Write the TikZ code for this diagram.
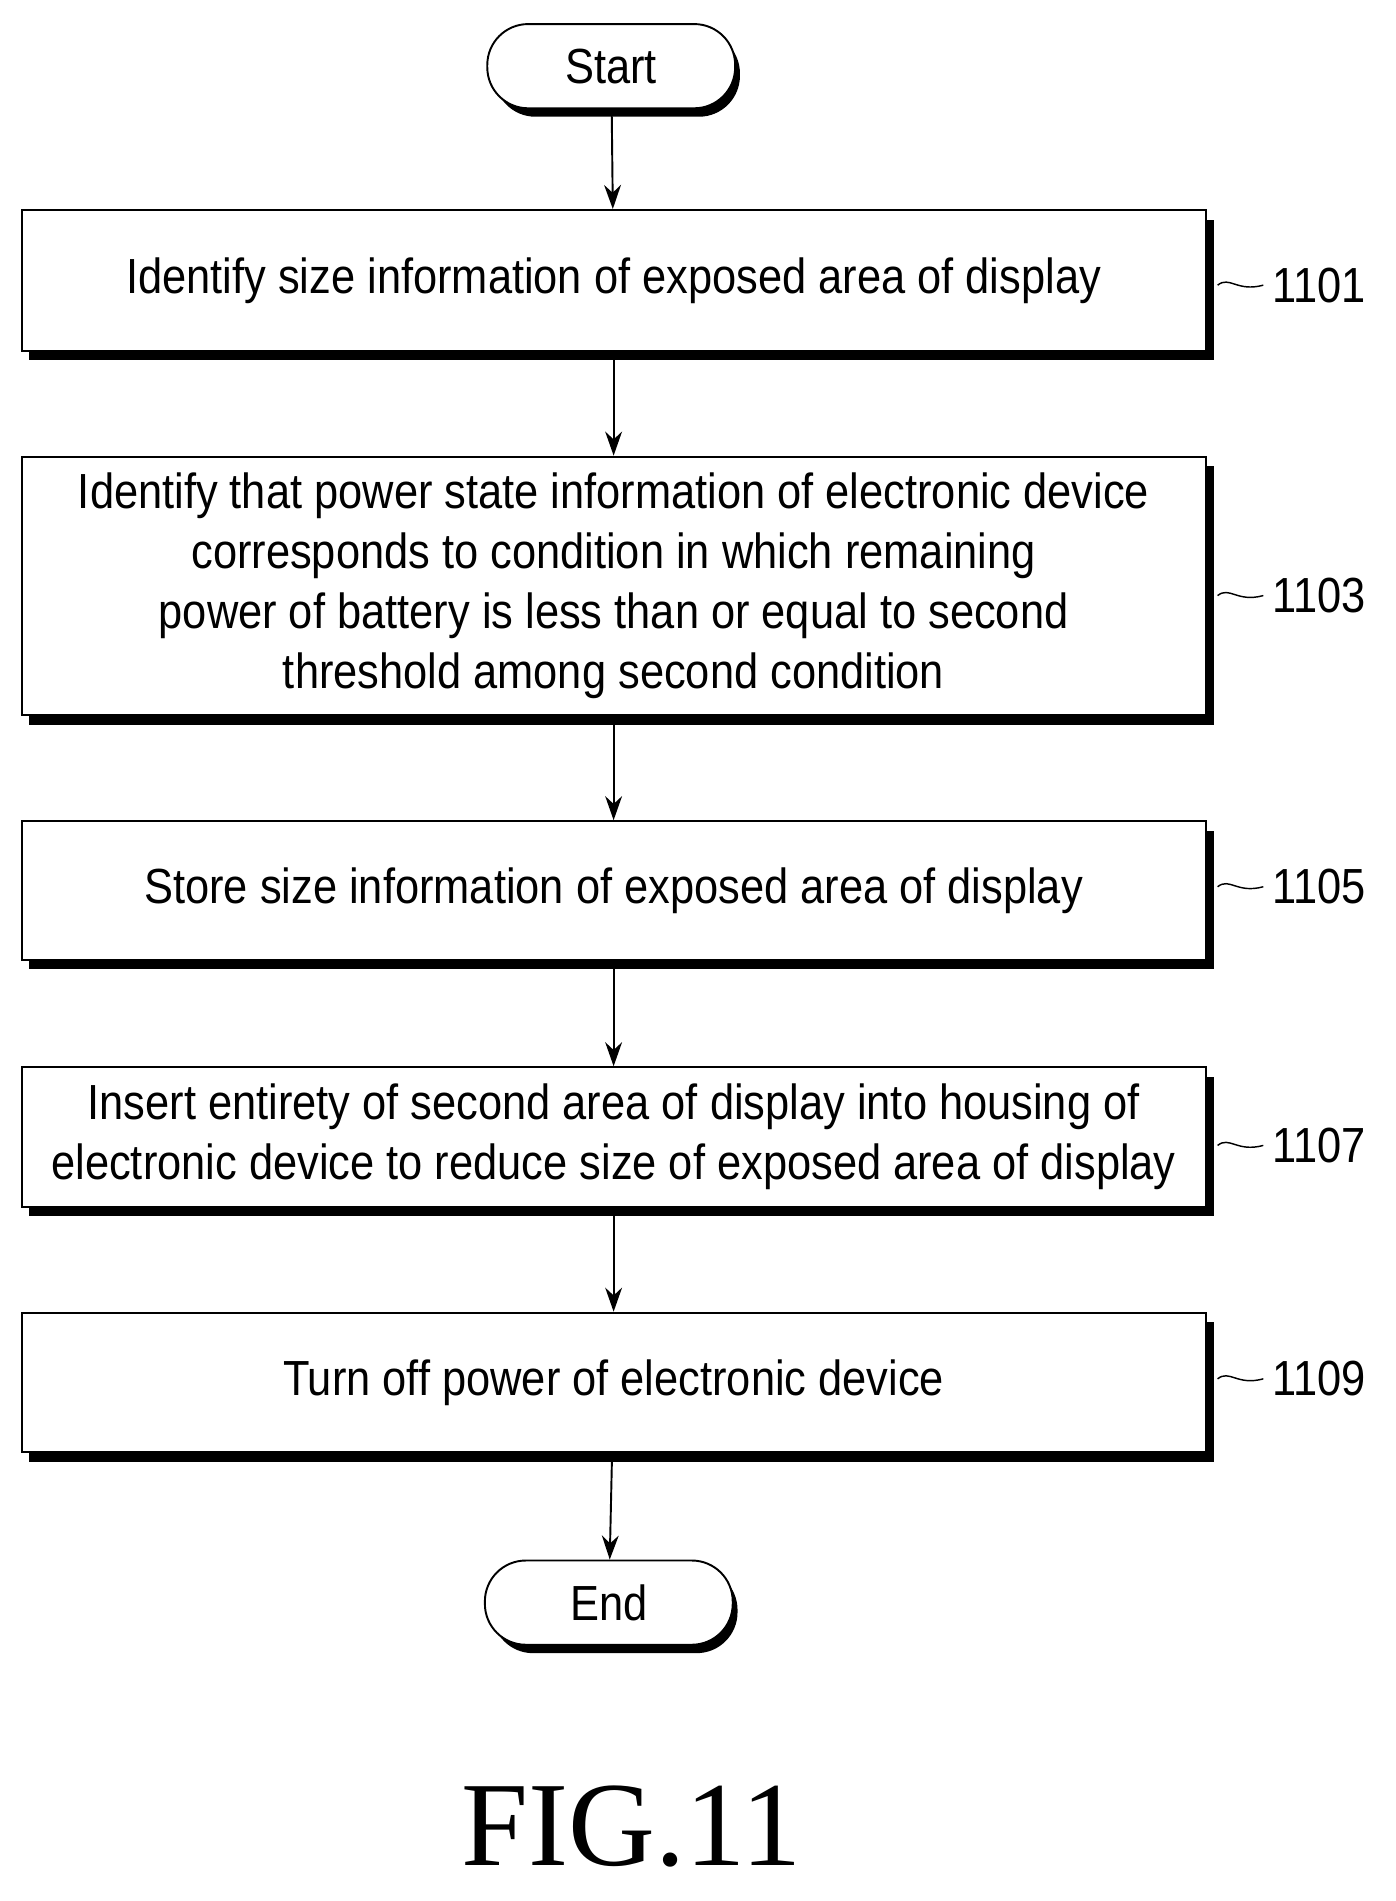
\documentclass[tikz,border=0pt]{standalone}
\usepackage{fontspec}
\setmainfont{Liberation Sans}[FakeStretch=0.88]
\newfontfamily\figfont{Liberation Serif}
\usetikzlibrary{arrows.meta}
\begin{document}
\begin{tikzpicture}[x=1pt,y=-1pt,
  box/.style={draw,line width=1.6pt,fill=white,minimum width=984pt,align=center,
    font=\fontsize{41}{50}\selectfont,inner sep=0pt},
  term/.style={draw,line width=1.6pt,fill=white,rounded corners=34pt,minimum width=206pt,minimum height=70pt,
    font=\fontsize{41}{44}\selectfont},
  shadow/.style={fill=black},
  arr/.style={-{Stealth[length=20pt,width=14pt]},line width=1.6pt},
  lab/.style={font=\fontsize{41}{44}\selectfont,anchor=west}]
\useasboundingbox (0,0) rectangle (1160,1580);
\foreach \n/\y/\h in {a/233/117,b/487/215,c/740/115,d/945/116,e/1149/116}{
  \fill[shadow] (24,\y-\h/2+8) rectangle (1009,\y+\h/2+8);
}
\fill[shadow,rounded corners=34pt] (411,27) rectangle (615,97);
\fill[shadow,rounded corners=34pt] (409,1304) rectangle (613,1374);
\node[term] (s) at (508,55) {Start};
\node[term] (t) at (506,1332) {End};
\node[box,minimum height=117pt] (a) at (510,233) {Identify size information of exposed area of display};
\node[box,minimum height=215pt] (b) at (510,487) {Identify that power state information of electronic device\\corresponds to condition in which remaining\\power of battery is less than or equal to second\\threshold among second condition};
\node[box,minimum height=115pt] (c) at (510,740) {Store size information of exposed area of display};
\node[box,minimum height=116pt] (d) at (510,945) {Insert entirety of second area of display into housing of\\electronic device to reduce size of exposed area of display};
\node[box,minimum height=116pt] (e) at (510,1149) {Turn off power of electronic device};
\draw[arr] (s) -- (a);
\draw[arr] (a) -- (b);
\draw[arr] (b) -- (c);
\draw[arr] (c) -- (d);
\draw[arr] (d) -- (e);
\draw[arr] (e) -- (t);
\foreach \y/\t in {237/1101,495/1103,737/1105,952/1107,1146/1109}{
  \node[lab] (l\t) at (1054,\y) {\t};
  \draw[line width=1.2pt] (1012,\y) .. controls (1022,\y-8) and (1028,\y+6) .. (1050,\y);
}
\node[font=\figfont\fontsize{100}{110}\selectfont] (fig) at (525,1518) {FIG.11};
\end{tikzpicture}
\end{document}
